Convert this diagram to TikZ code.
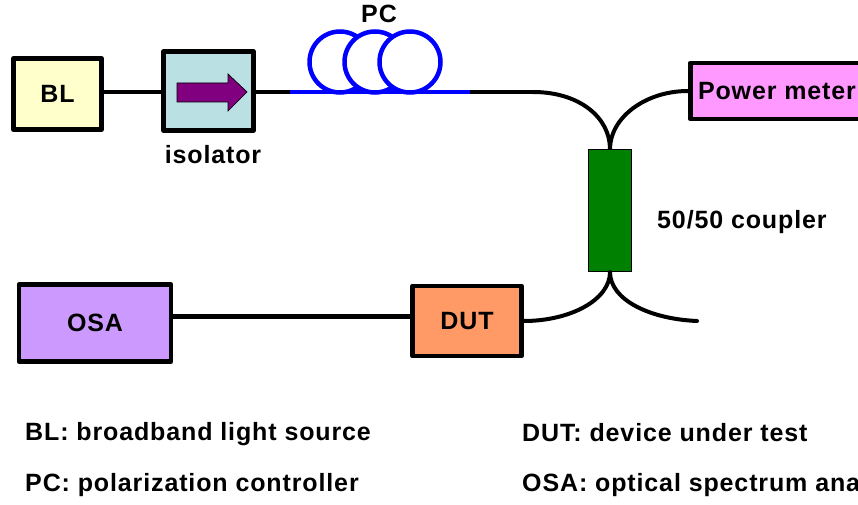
\documentclass[tikz,border=0pt]{standalone}
\usepackage{fontspec}
\setmainfont[LetterSpace=3.5]{Liberation Sans}
\usepackage{xcolor}
\definecolor{colBL}{HTML}{FFFFCC}
\definecolor{colIso}{HTML}{BBE0E3}
\definecolor{colPower}{HTML}{FF99FF}
\definecolor{colOSA}{HTML}{CC99FF}
\definecolor{colDUT}{HTML}{FF9966}
\definecolor{colCoupler}{HTML}{008000}
\definecolor{colArrow}{HTML}{800080}
\tikzset{
    devbox/.style={draw=black,line width=4.5pt,line join=round,inner sep=0pt,font=\fontsize{25}{29}\bfseries\selectfont},
    coil/.style={circle,draw=blue,line width=4.5pt,fill=white,minimum size=61pt,inner sep=0pt},
    fiber/.style={black,line width=4pt},
    txt/.style={inner sep=0pt,font=\fontsize{25}{29}\bfseries\selectfont}
}
\begin{document}
\begin{tikzpicture}[x=1pt,y=-1pt]
        \clip (0,0) rectangle (858,505);
        \node[devbox,fill=colBL,minimum width=88pt,minimum height=71pt] (bl) at (57.5,94) {BL};
        \node[devbox,fill=colIso,minimum width=90pt,minimum height=79pt] (iso) at (208.5,91) {};
        \draw [black,line width=0.7pt,fill=colArrow] (177,83) -- (228,83) -- (228,74) -- (247,92) -- (228,111) -- (228,102) -- (177,102) -- cycle;
        \node[devbox,fill=colPower,minimum width=173.5pt,minimum height=56pt] (power) at (777,91) {Power meter};
        \node[draw=black,line width=1pt,fill=colCoupler,minimum width=43pt,minimum height=122pt,inner sep=0pt] (coupler) at (610,210.5) {};
        \node[devbox,fill=colDUT,minimum width=109pt,minimum height=70pt] (dut) at (467,321) {DUT};
        \node[devbox,fill=colOSA,minimum width=152pt,minimum height=77pt] (osa) at (95,323) {OSA};
        \foreach \i in {0,1,2} {
            \node[coil] (pc\i) at ({340+35*\i},62) {};
        }
        \coordinate (pcin) at (290,92);
        \coordinate (pcout) at (470,92);
        \coordinate (bend) at (533,92);
        \coordinate (freeend) at (697,321);
        \draw [fiber] (bl.east |- pcin) -- (iso.west |- pcin);
        \draw [fiber] (iso.east |- pcin) -- (pcin);
        \draw [blue,line width=4.5pt] (pcin) -- (pcout);
        \draw [fiber] (pcout) -- (bend);
        \draw [fiber] (bend) .. controls (580,92) and (610,118) .. (coupler.north);
        \draw [fiber] (power.west) .. controls (645,91) and (610,118) .. (coupler.north);
        \draw [fiber] (dut.east) .. controls (570,321) and (610,300) .. (coupler.south);
        \draw [fiber,line cap=round] (freeend) .. controls (650,319) and (610,300) .. (coupler.south);
        \draw [fiber,line width=5pt] (osa.east |- 0,316) -- (dut.west |- 0,316);
        \node[txt] (pclabel) at (379,14) {PC};
        \node[txt] (isolabel) at (213,155) {isolator};
        \node[txt,anchor=west] (couplerlabel) at (657,222) {50/50 coupler};
        \node[txt,anchor=west] (legbl) at (25,434) {BL: broadband light source};
        \node[txt,anchor=west] (legpc) at (25,485) {PC: polarization controller};
        \node[txt,anchor=west] (legdut) at (522,433) {DUT: device under test};
        \node[txt,anchor=west] (legosa) at (522,485) {OSA: optical spectrum ana};
    \end{tikzpicture}
\end{document}
